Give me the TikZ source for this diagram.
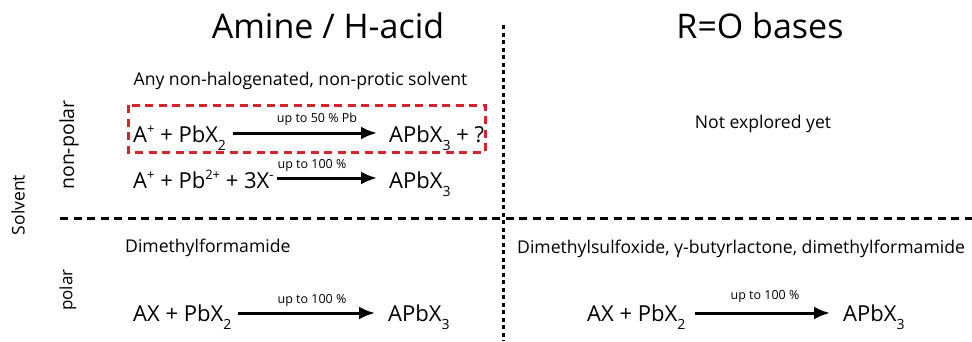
\documentclass[tikz,border=0pt]{standalone}
\usepackage{fontspec}
\setmainfont{Open Sans}
\usepackage{tikz}
\usetikzlibrary{arrows.meta}
\newcommand{\chsub}[1]{\raisebox{-0.7ex}{\fontsize{14}{14}\selectfont #1}}
\newcommand{\chsup}[1]{\raisebox{0.75ex}{\fontsize{13}{13}\selectfont #1}}
\definecolor{boxred}{RGB}{214,36,42}
\tikzset{
    title/.style = {font=\fontsize{34}{40}\selectfont, anchor=base},
    body/.style = {font=\fontsize{17.6}{22}\selectfont, inner sep=0pt},
    chem/.style = {font=\fontsize{22}{26}\selectfont, anchor=base west, inner sep=0pt},
    rxn/.style = {line width=3pt, -{Latex[length=16pt,width=13pt]}},
    yield/.style = {font=\fontsize{12.5}{15}\selectfont, anchor=base, inner sep=0pt}
}

\begin{document}
\begin{tikzpicture}[x=1pt, y=-1pt]
    \useasboundingbox (0,0) rectangle (972,341);
    \node[title] (amine) at (328,38) {Amine / H-acid};
    \node[title] (base) at (760,38) {R=O bases};
    \draw[line width=3pt, dash pattern=on 4pt off 3.5pt] (503,25) -- (503,341);
    \draw[line width=3pt, dash pattern=on 8pt off 5.5pt] (60,218) -- (972,218);
    \node[body, font=\fontsize{17.5}{22}\selectfont, rotate=90] (solv) at (18,205) {Solvent};
    \node[body, font=\fontsize{19.5}{22}\selectfont, rotate=90] (npol) at (69,145) {non-polar};
    \node[body, font=\fontsize{17}{22}\selectfont, rotate=90] (pol) at (68,290) {polar};

    \node[body, anchor=base] (anysolv) at (300.5,85) {Any non-halogenated, non-protic solvent};
    \draw[boxred, line width=3pt, dash pattern=on 8pt off 5.5pt] (128,105) rectangle (485,152);
    \node[chem] (r1l) at (133,142) {A\chsup{+} + PbX\chsub{2}};
    \node[chem] (r1r) at (389,142) {APbX\chsub{3} + ?};
    \coordinate (a1s) at (233,133);
    \coordinate (a1e) at (377,133);
    \draw[rxn] (a1s) -- (a1e);
    \node[yield] (y1) at (317,122) {up to 50 \% Pb};

    \node[chem] (r2l) at (133,188) {A\chsup{+} + Pb\chsup{2+} + 3X\chsup{-}};
    \node[chem] (r2r) at (389,188) {APbX\chsub{3}};
    \coordinate (a2s) at (277,178);
    \coordinate (a2e) at (377,178);
    \draw[rxn] (a2s) -- (a2e);
    \node[yield] (y2) at (312,168) {up to 100 \%};

    \node[body, anchor=base] (notexp) at (763,128) {Not explored yet};

    \node[body, anchor=base west] (dmf) at (125,252) {Dimethylformamide};
    \node[chem] (r3l) at (133,321) {AX + PbX\chsub{2}};
    \node[chem] (r3r) at (388,321) {APbX\chsub{3}};
    \coordinate (a3s) at (238,313);
    \coordinate (a3e) at (375,313);
    \draw[rxn] (a3s) -- (a3e);
    \node[yield] (y3) at (312,303) {up to 100 \%};

    \node[body, anchor=base west] (dmso) at (517,253) {Dimethylsulfoxide, γ-butyrlactone, dimethylformamide};
    \node[chem] (r4l) at (587,321) {AX + PbX\chsub{2}};
    \node[chem] (r4r) at (843,321) {APbX\chsub{3}};
    \coordinate (a4s) at (695,313);
    \coordinate (a4e) at (830,313);
    \draw[rxn] (a4s) -- (a4e);
    \node[yield] (y4) at (765,299) {up to 100 \%};
\end{tikzpicture}
\end{document}
